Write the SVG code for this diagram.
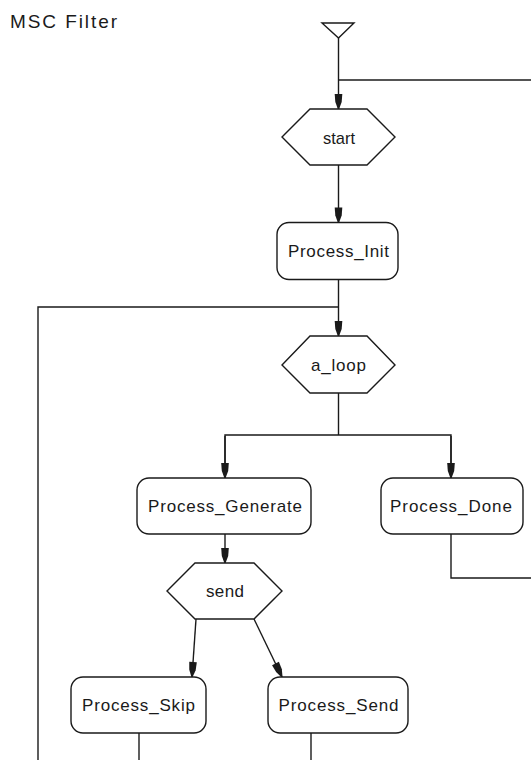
<svg xmlns="http://www.w3.org/2000/svg" width="531" height="760" viewBox="0 0 531 760">
  <style>
    .shape { fill: #ffffff; stroke: #1a1a1a; stroke-width: 1.4; }
    .wire { fill: none; stroke: #1a1a1a; stroke-width: 1.4; }
    .label { font-family: "Liberation Sans", Arial, sans-serif; font-size: 17px; fill: #1a1a1a; text-anchor: middle; }
    .title { font-family: "Liberation Sans", Arial, sans-serif; font-size: 19px; fill: #1a1a1a; }
  </style>
  <defs>
    <marker id="arrow" markerUnits="userSpaceOnUse" markerWidth="18" markerHeight="10" viewBox="-16 -5 17 10" refX="0" refY="0" orient="auto">
      <path d="M-15,-3.8 L-7,-3.2 L0,-0.6 L0,0.6 L-7,3.2 L-15,3.8 Z" fill="#1a1a1a"/>
    </marker>
  </defs>

  <rect width="531" height="760" fill="#ffffff"/>

  <text class="title" x="10" y="27.5" textLength="107" lengthAdjust="spacing">MSC  Filter</text>

  <!-- connectors -->
  <g id="connectors">
    <line class="wire" x1="338.5" y1="38" x2="338.5" y2="109" marker-end="url(#arrow)"/>
    <line class="wire" x1="338.5" y1="80" x2="531" y2="80"/>
    <line class="wire" x1="338.5" y1="165" x2="338.5" y2="222.5" marker-end="url(#arrow)"/>
    <line class="wire" x1="338.5" y1="279.5" x2="338.5" y2="336" marker-end="url(#arrow)"/>
    <polyline class="wire" points="38,760 38,307 338.5,307"/>
    <line class="wire" x1="338.5" y1="393" x2="338.5" y2="435"/>
    <polyline class="wire" points="225,478 225,435 451,435 451,478"/>
    <line class="wire" x1="225" y1="436" x2="225" y2="478" marker-end="url(#arrow)"/>
    <line class="wire" x1="451" y1="436" x2="451" y2="478" marker-end="url(#arrow)"/>
    <polyline class="wire" points="451,534 451,578 531,578"/>
    <line class="wire" x1="225" y1="534" x2="225" y2="563" marker-end="url(#arrow)"/>
    <line class="wire" x1="196" y1="619" x2="192" y2="677" marker-end="url(#arrow)"/>
    <line class="wire" x1="254" y1="619" x2="282" y2="677" marker-end="url(#arrow)"/>
    <line class="wire" x1="139" y1="733" x2="139" y2="760"/>
    <line class="wire" x1="311" y1="733" x2="311" y2="760"/>
  </g>

  <!-- entry point -->
  <g id="entry">
    <polygon class="shape" points="322,23 354,23 338.5,38"/>
  </g>

  <g id="start">
    <polygon class="shape" points="282,137 310,109 367,109 395,137 367,165 310,165"/>
    <text class="label" x="339" y="144" textLength="32" lengthAdjust="spacingAndGlyphs">start</text>
  </g>

  <g id="process_init">
    <rect class="shape" x="277" y="222.5" width="121" height="57" rx="12" ry="12"/>
    <text class="label" x="338.5" y="257" textLength="101" lengthAdjust="spacing">Process_Init</text>
  </g>

  <g id="a_loop">
    <polygon class="shape" points="282,365 310,336 367,336 395,365 367,393 310,393"/>
    <text class="label" x="338.5" y="371" textLength="55" lengthAdjust="spacing">a_loop</text>
  </g>

  <g id="process_generate">
    <rect class="shape" x="137" y="478" width="174" height="56" rx="12" ry="12"/>
    <text class="label" x="225" y="512" textLength="154" lengthAdjust="spacing">Process_Generate</text>
  </g>

  <g id="process_done">
    <rect class="shape" x="381" y="478" width="142" height="56" rx="12" ry="12"/>
    <text class="label" x="451" y="512" textLength="122" lengthAdjust="spacing">Process_Done</text>
  </g>

  <g id="send">
    <polygon class="shape" points="167,591 195,563 254,563 282,591 254,619 195,619"/>
    <text class="label" x="225" y="597" textLength="38" lengthAdjust="spacing">send</text>
  </g>

  <g id="process_skip">
    <rect class="shape" x="71" y="677" width="135" height="56" rx="12" ry="12"/>
    <text class="label" x="138.5" y="711" textLength="113" lengthAdjust="spacing">Process_Skip</text>
  </g>

  <g id="process_send">
    <rect class="shape" x="268" y="677" width="140" height="56" rx="12" ry="12"/>
    <text class="label" x="338.5" y="711" textLength="120" lengthAdjust="spacing">Process_Send</text>
  </g>
</svg>
